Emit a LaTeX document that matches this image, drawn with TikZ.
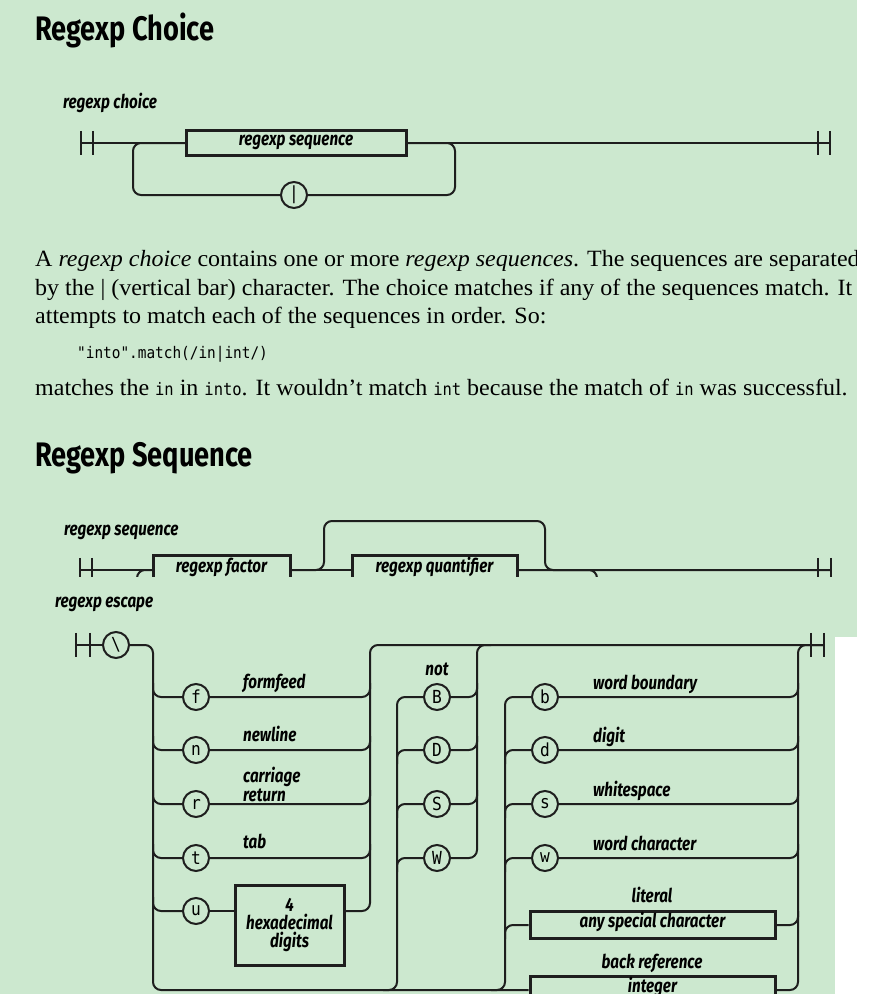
\documentclass[tikz,border=0pt]{standalone}
\usepackage{fontspec}
\setmainfont[FakeStretch=1.03]{Liberation Serif}
\newfontfamily\titlefam[FakeStretch=0.8]{Fira Sans}
\newfontfamily\labfam[FakeStretch=0.8]{Fira Sans}
\newfontfamily\monofam[FakeStretch=0.9]{DejaVu Sans Mono}
\newfontfamily\circfam[FakeStretch=0.9]{DejaVu Sans Mono}
\newcommand\titlef{\titlefam\bfseries\fontsize{34}{34}\selectfont}
\newcommand\labf{\labfam\bfseries\itshape\fontsize{19}{19}\selectfont}
\newcommand\monof{\monofam\fontsize{16}{16}\selectfont}
\newcommand\inmono{\monofam\fontsize{17.2}{17.2}\selectfont}
\newcommand\circf{\circfam\fontsize{18}{18}\selectfont}
\newcommand\bodyf{\fontsize{23.3}{28}\selectfont}
\definecolor{bg}{RGB}{204,232,207}
\definecolor{ink}{RGB}{30,30,30}
\pgfdeclarelayer{back}\pgfdeclarelayer{rails}
\pgfsetlayers{back,rails,main}
\tikzset{
  rail/.style={draw=ink, line width=2pt, rounded corners=8pt},
  bar/.style={draw=ink, line width=2pt},
  tbox/.style={draw=ink, line width=3pt, fill=bg, inner sep=0pt, font=\labf, text height=10pt, text depth=5pt},
  circ/.style={circle, draw=ink, line width=2pt, fill=bg, minimum size=26pt, inner sep=0pt, font=\circf},
  lab/.style={font=\labf, inner sep=0pt},
  term/.style={minimum width=12pt, minimum height=24pt, inner sep=0pt},
  body/.style={font=\bodyf, inner sep=0pt, anchor=base west},
}
\begin{document}
\begin{tikzpicture}[x=1pt,y=-1pt]
\useasboundingbox (0,0) rectangle (884,994);
\begin{pgfonlayer}{back}
\fill[white] (0,0) rectangle (884,994);
\fill[bg] (0,0) rectangle (857,637);
\fill[bg] (0,637) rectangle (835,994);
\end{pgfonlayer}

% ---------- titles and text
\node[font=\titlef, inner sep=0pt, anchor=base west] (title1) at (35,40) {Regexp Choice};
\node[font=\titlef, inner sep=0pt, anchor=base west] (title2) at (35,466) {Regexp Sequence};

\node[body] (p1) at (35,266) {A \textit{regexp choice} contains one or more \textit{regexp sequences}. The sequences are separated};
\node[body] (p2) at (35,295) {by the | (vertical bar) character. The choice matches if any of the sequences match. It};
\node[body] (p3) at (35,323) {attempts to match each of the sequences in order. So:};
\node[font=\monof, inner sep=0pt, anchor=base west] (code) at (77,358) {"into".match(/in|int/)};
\node[body] (p5) at (35,395) {matches the {\inmono in} in {\inmono into}. It wouldn’t match {\inmono int} because the match of {\inmono in} was successful.};

% ---------- regexp choice
\node[lab, anchor=base west] (lchoice) at (63,108) {regexp choice};
\node[term] (cs) at (87,143) {};
\node[tbox, minimum width=220pt, minimum height=25pt] (cbox) at (296,143) {regexp sequence};
\node[circ] (cbar) at (294,195) {|};
\node[term] (ce) at (824,143) {};
\coordinate (cloopa) at (133,143);
\coordinate (cloopb) at (455,195);
\draw[bar] (cs.north west) -- (cs.south west) (cs.north east) -- (cs.south east);
\draw[bar] (ce.north west) -- (ce.south west) (ce.north east) -- (ce.south east);
\begin{pgfonlayer}{rails}
\draw[rail] (cs.west) -- (cbox.west);
\draw[rail] (cbox.east) -- (ce.east);
\draw[rail] (cloopa) rectangle (cloopb);
\end{pgfonlayer}

% ---------- regexp sequence
\node[lab, anchor=base west] (lseq) at (64,535) {regexp sequence};
\node[term] (ss) at (86,570) {};
\node[tbox, minimum width=137pt, minimum height=30pt] (fbox) at (221.5,570) {regexp factor};
\node[tbox, minimum width=165pt, minimum height=30pt] (qbox) at (434.5,570) {regexp quantifier};
\node[term] (se) at (824.5,570) {};
\coordinate (qa) at (324,521);
\coordinate (qb) at (545,521);
\coordinate (lba) at (137,592);
\coordinate (lbb) at (597,592);
\draw[bar] (ss.north west) -- (ss.south west) (ss.north east) -- (ss.south east);
\draw[bar] (se.north west) -- (se.south west) (se.north east) -- (se.south east);
\begin{pgfonlayer}{rails}
\draw[rail] (ss.west) -- (fbox.west);
\draw[rail] (fbox.east) -- (qbox.west);
\draw[rail] (qbox.east) -- (se.east);
\draw[rail] (fbox.east) -- (qa |- fbox.east) -- (qa) -- (qb) -- (qb |- se.west) -- (se.east);
\draw[rail] (qbox.east) -- (lbb |- qbox.east) -- (lbb) -- (lba) -- (lba |- fbox.west) -- (fbox.west);
\end{pgfonlayer}
\fill[bg] (0,577) rectangle (857,597);

% ---------- regexp escape
\node[lab, anchor=base west] (lesc) at (55,607) {regexp escape};
\node[term, minimum width=13pt] (es) at (83,645) {};
\node[circ] (ebs) at (116,645) {\textbackslash};
\node[term, minimum width=13pt] (ee) at (817.5,645) {};
\draw[bar] (es.north west) -- (es.south west) (es.north east) -- (es.south east);
\draw[bar] (ee.north west) -- (ee.south west) (ee.north east) -- (ee.south east);

\node[circ] (cf) at (196,697) {f};
\node[circ] (cn) at (196,750) {n};
\node[circ] (crr) at (196,804) {r};
\node[circ] (ct) at (196,858) {t};
\node[circ] (cu) at (196,911) {u};
\node[tbox, minimum width=109pt, minimum height=80pt, text height=, text depth=, align=center] (hex) at (289.5,925) {4\\[-1pt]hexadecimal\\[-1pt]digits};

\node[lab, anchor=base west] (lff) at (243,688) {formfeed};
\node[lab, anchor=base west] (lnl) at (243,741) {newline};
\node[lab, anchor=base west] (lcr1) at (243,782) {carriage};
\node[lab, anchor=base west] (lcr2) at (243,801) {return};
\node[lab, anchor=base west] (ltab) at (243,848) {tab};

\node[circ] (cB) at (437,697) {B};
\node[circ] (cD) at (437,750) {D};
\node[circ] (cS) at (437,804) {S};
\node[circ] (cW) at (437,858) {W};
\node[lab, anchor=base] (lnot) at (437,675) {not};

\node[circ] (cb) at (545,697) {b};
\node[circ] (cd) at (545,750) {d};
\node[circ] (cs2) at (545,804) {s};
\node[circ] (cw) at (545,858) {w};
\node[tbox, minimum width=245pt, minimum height=27pt] (lit) at (652.5,925) {any special character};
\node[tbox, minimum width=245pt, minimum height=27pt] (int) at (652.5,990) {integer};

\node[lab, anchor=base west] (lwb) at (593,689) {word boundary};
\node[lab, anchor=base west] (ldg) at (593,742) {digit};
\node[lab, anchor=base west] (lws) at (593,796) {whitespace};
\node[lab, anchor=base west] (lwc) at (593,850) {word character};
\node[lab, anchor=base] (llit) at (652,902) {literal};
\node[lab, anchor=base] (lbr) at (652,968) {back reference};

\coordinate (v1) at (153,645);
\coordinate (m1) at (370,645);
\coordinate (v2) at (397,697);
\coordinate (m2) at (477,645);
\coordinate (v3) at (505,697);
\coordinate (m3) at (798,645);

\begin{pgfonlayer}{rails}
\draw[rail] (es.west) -- (ebs.west);
\draw[rail] (ebs.east) -- (v1) -- (v1 |- int.west) -- (int.west);
\foreach \c in {cf,cn,crr,ct,cu}
  \draw[rail] (v1 |- \c) ++(0,-14) -- ++(0,14) -- (\c.west);
\foreach \c in {cf,cn,crr,ct}
  \draw[rail] (\c.east) -- (m1 |- \c) -- ++(0,-14);
\draw[rail] (cu.east) -- (cu -| hex.west);
\draw[rail] (hex.east |- cu) -- (m1 |- cu) -- (m1) -- (ee.east);
% not group
\draw[rail] (v2 |- int.west) ++(-14,0) -- ++(14,0) -- (v2) -- (cB.west);
\foreach \c in {cD,cS,cW}
  \draw[rail] (v2 |- \c) ++(0,14) -- ++(0,-14) -- (\c.west);
\draw[rail] (cW.east) -- (m2 |- cW) -- (m2) -- ++(14,0);
\foreach \c in {cB,cD,cS}
  \draw[rail] (\c.east) -- (m2 |- \c) -- ++(0,-14);
% class group
\draw[rail] (v3 |- int.west) ++(-14,0) -- ++(14,0) -- (v3) -- (cb.west);
\foreach \c in {cd,cs2,cw,lit}
  \draw[rail] (v3 |- \c) ++(0,14) -- ++(0,-14) -- (\c.west);
\draw[rail] (int.east) -- (m3 |- int.east) -- (m3) -- (ee.east);
\foreach \c in {cb,cd,cs2,cw,lit}
  \draw[rail] (\c.east) -- (m3 |- \c) -- ++(0,-14);
\end{pgfonlayer}

\fill[white] (857,0) rectangle (884,637);
\fill[white] (835,637) rectangle (884,994);
\end{tikzpicture}
\end{document}
